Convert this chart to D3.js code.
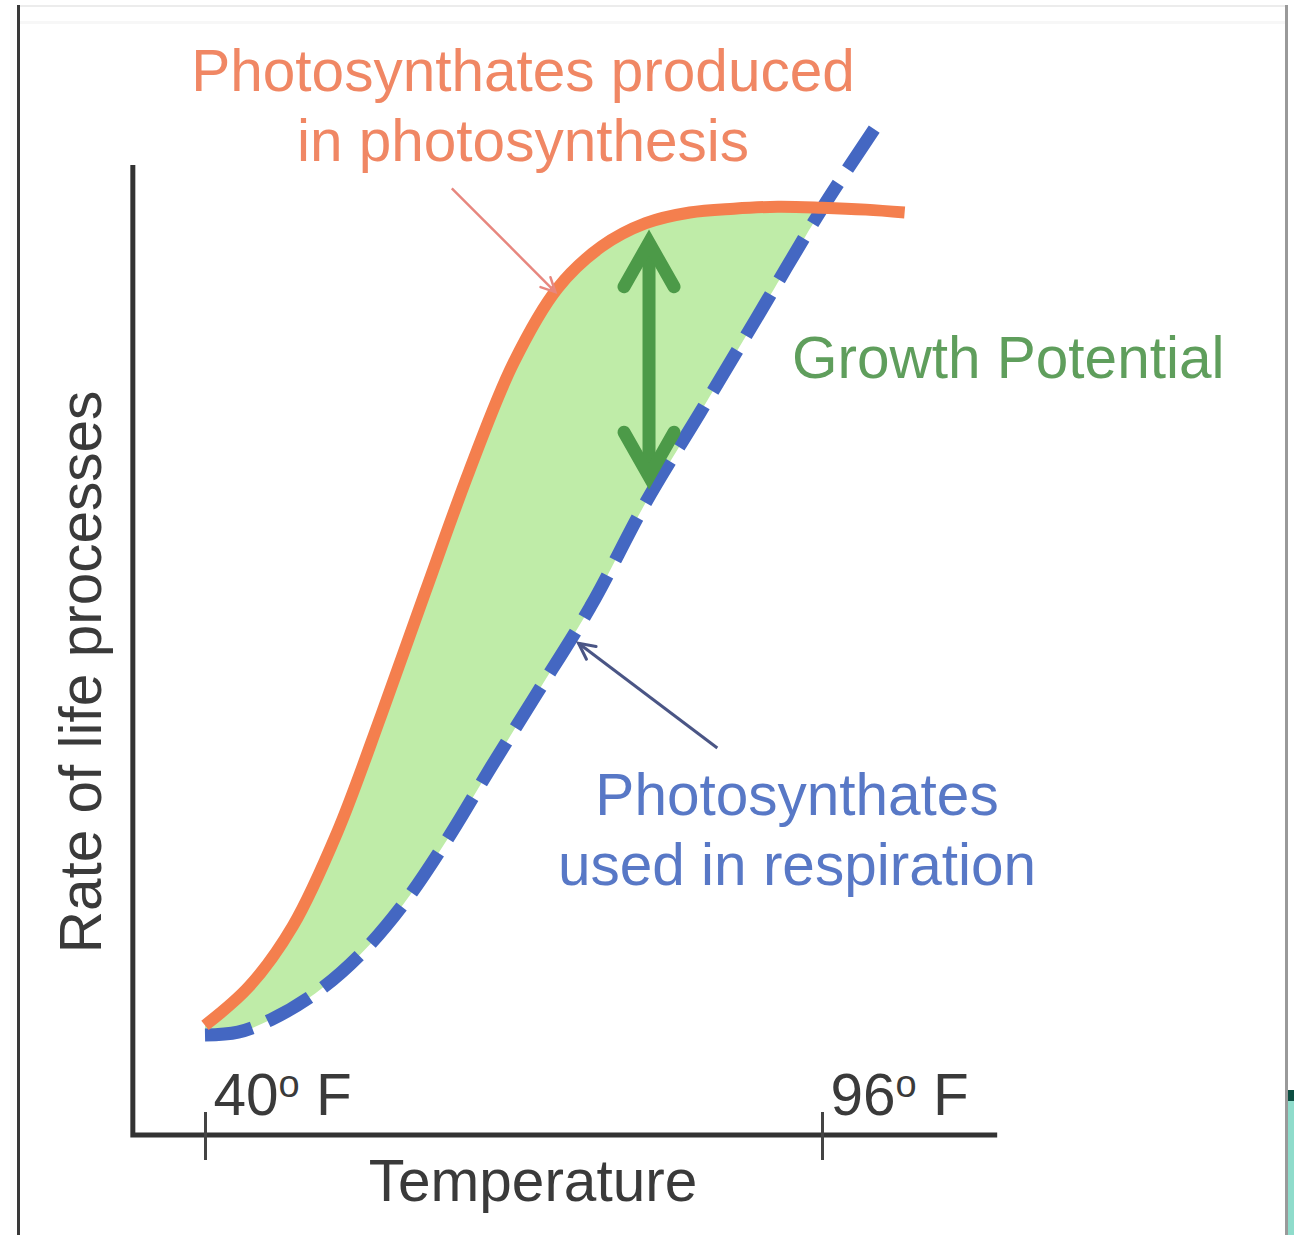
<!DOCTYPE html>
<html>
<head>
<meta charset="utf-8">
<script src="https://cdn.jsdelivr.net/npm/d3@7/dist/d3.min.js"></script>
<style>
  html, body { margin: 0; padding: 0; background: #ffffff; }
  svg { display: block; }
  text { font-family: "Liberation Sans", Arial, sans-serif; }
</style>
</head>
<body>
<svg id="chart" width="1294" height="1235"></svg>
<script>
// ---------- data ----------
const photoTemps = [40, 44, 48, 52, 56, 60, 64, 68, 72, 76, 80, 84, 88, 92, 96, 100, 103.5];
const photoRates = [11.3, 15.3, 21.6, 31.2, 43.3, 56.0, 68.5, 79.6, 87.3, 91.6, 94.0, 95.1, 95.5, 95.7, 95.6, 95.4, 95.1];

const respTemps = [40, 43, 46, 50, 54, 58, 62, 66, 70, 75, 80, 85, 90, 96, 100.8];
const respRates = [10.3, 10.6, 11.9, 14.6, 18.5, 23.8, 30.5, 38.0, 45.3, 54.5, 65.2, 74.6, 84.1, 95.5, 103.8];

const tickValues = [40, 96];
const tickLabels = ["40", "96"];
const tickUnit = " F";

const xAxisTitle = "Temperature";
const yAxisTitle = "Rate of life processes";
const photoLabel = ["Photosynthates produced", "in photosynthesis"];
const respLabel = ["Photosynthates", "used in respiration"];
const growthLabel = "Growth Potential";

// annotation anchors, in data units
const growthArrow = { temp: 80.3, top: 92.4, bottom: 67.5 };
const photoPointer = { from: [62.4, 97.6], to: [71.8, 86.9] };
const respPointer = { from: [86.5, 39.9], to: [73.9, 50.7] };

// ---------- setup ----------
const svg = d3.select("#chart");
const x = d3.scaleLinear().domain([40, 96]).range([205, 822]);
const y = d3.scaleLinear().domain([0, 100]).range([1135, 165]);

const photo = photoTemps.map((t, i) => ({ t, r: photoRates[i] }));
const resp = respTemps.map((t, i) => ({ t, r: respRates[i] }));

const fontSize = "58.5px";

// ---------- frame of the screenshot ----------
svg.append("rect").attr("x", 18).attr("y", 5).attr("width", 1268).attr("height", 2).attr("fill", "#ececec");
svg.append("rect").attr("x", 18).attr("y", 21).attr("width", 1268).attr("height", 3).attr("fill", "#f7f7f7");
svg.append("rect").attr("x", 17).attr("y", 5).attr("width", 3).attr("height", 1230).attr("fill", "#3a3a3a");
svg.append("rect").attr("x", 1285).attr("y", 5).attr("width", 3).attr("height", 1230).attr("fill", "#9a9a9a");
svg.append("rect").attr("x", 1288).attr("y", 1090).attr("width", 6).attr("height", 145).attr("fill", "#8fdccb");
svg.append("rect").attr("x", 1288).attr("y", 1090).attr("width", 6).attr("height", 11).attr("fill", "#0d4f42");

// ---------- fill between curves ----------
const curve = d3.curveCatmullRom.alpha(0.5);
const line = d3.line().x(d => x(d.t)).y(d => y(d.r)).curve(curve);

const upper = photo.filter(d => d.t <= 96);
const lower = resp.filter(d => d.t <= 96).slice().reverse();
const fillPath = line(upper) + line(lower).replace(/^M/, "L") + "Z";
svg.append("path").attr("d", fillPath).attr("fill", "#bfeca8").attr("stroke", "none");

// ---------- curves ----------
svg.append("path").datum(resp).attr("d", line)
  .attr("fill", "none").attr("stroke", "#4467c2").attr("stroke-width", 13)
  .attr("stroke-dasharray", "48 17").attr("stroke-linecap", "butt");

svg.append("path").datum(photo).attr("d", line)
  .attr("fill", "none").attr("stroke", "#f47f4e").attr("stroke-width", 12)
  .attr("stroke-linecap", "butt");

// ---------- axes ----------
const axisColor = "#333333";
svg.append("path")
  .attr("d", `M${x(33.45)},${y(100)} L${x(33.45)},${y(0)} L${x(111.9)},${y(0)}`)
  .attr("fill", "none").attr("stroke", axisColor).attr("stroke-width", 5)
  .attr("stroke-linejoin", "miter");

const xAxis = d3.axisBottom(x).tickValues(tickValues).tickSize(25).tickFormat("");
const gx = svg.append("g").attr("transform", `translate(0,${y(0)})`).call(xAxis);
gx.select(".domain").remove();
gx.selectAll(".tick line").attr("y1", -23).attr("y2", 25)
  .attr("stroke", "#444").attr("stroke-width", 3);
const tickText = gx.selectAll(".tick").append("text")
  .attr("x", 8).attr("y", -20)
  .attr("fill", "#3a3a3a").attr("text-anchor", "start")
  .style("font-size", fontSize);
tickText.append("tspan").text((d, i) => tickLabels[i]);
tickText.append("tspan").text("o").attr("dy", -18).style("font-size", "38px");
tickText.append("tspan").text(tickUnit).attr("dy", 18);

svg.append("text").text(xAxisTitle)
  .attr("x", 533).attr("y", 1201).attr("text-anchor", "middle")
  .attr("fill", "#3a3a3a").style("font-size", fontSize);

svg.append("text").text(yAxisTitle)
  .attr("transform", "translate(101,672) rotate(-90)")
  .attr("text-anchor", "middle")
  .attr("fill", "#3a3a3a").style("font-size", fontSize);

// ---------- labels ----------
const photoText = svg.append("text").attr("text-anchor", "middle")
  .attr("fill", "#f08764").style("font-size", fontSize);
photoLabel.forEach((s, i) => photoText.append("tspan").attr("x", 523).attr("y", 91 + i * 70).text(s));

const respText = svg.append("text").attr("text-anchor", "middle")
  .attr("fill", "#5878c6").style("font-size", fontSize);
respLabel.forEach((s, i) => respText.append("tspan").attr("x", 797).attr("y", 815 + i * 70).text(s));

svg.append("text").text(growthLabel)
  .attr("x", 792).attr("y", 378).attr("text-anchor", "start")
  .attr("fill", "#5f9e5c").style("font-size", fontSize);

// ---------- arrows ----------
function head(g, x1, y1, x2, y2, len, half, color, sw) {
  const a = Math.atan2(y2 - y1, x2 - x1);
  const p1 = [x2 - len * Math.cos(a) + half * Math.sin(a), y2 - len * Math.sin(a) - half * Math.cos(a)];
  const p2 = [x2 - len * Math.cos(a) - half * Math.sin(a), y2 - len * Math.sin(a) + half * Math.cos(a)];
  g.append("path").attr("d", `M${p1[0]},${p1[1]} L${x2},${y2} L${p2[0]},${p2[1]}`)
    .attr("fill", "none").attr("stroke", color).attr("stroke-width", sw)
    .attr("stroke-linecap", "round").attr("stroke-linejoin", "miter");
}

const ga = svg.append("g");
const gxp = x(growthArrow.temp), gyt = y(growthArrow.top), gyb = y(growthArrow.bottom);
ga.append("line").attr("x1", gxp).attr("x2", gxp).attr("y1", gyt + 6).attr("y2", gyb - 6)
  .attr("stroke", "#4c9a48").attr("stroke-width", 13);
head(ga, gxp, gyb, gxp, gyt + 4, 44, 25, "#4c9a48", 13);
head(ga, gxp, gyt, gxp, gyb - 4, 44, 25, "#4c9a48", 13);

function pointer(p, color, sw, len, half) {
  const x1 = x(p.from[0]), y1 = y(p.from[1]), x2 = x(p.to[0]), y2 = y(p.to[1]);
  svg.append("line").attr("x1", x1).attr("y1", y1).attr("x2", x2).attr("y2", y2)
    .attr("stroke", color).attr("stroke-width", sw);
  head(svg, x1, y1, x2, y2, len, half, color, sw);
}
pointer(photoPointer, "#e7877f", 2.5, 14, 7);
pointer(respPointer, "#4a5585", 3, 16, 8);
</script>
</body>
</html>
